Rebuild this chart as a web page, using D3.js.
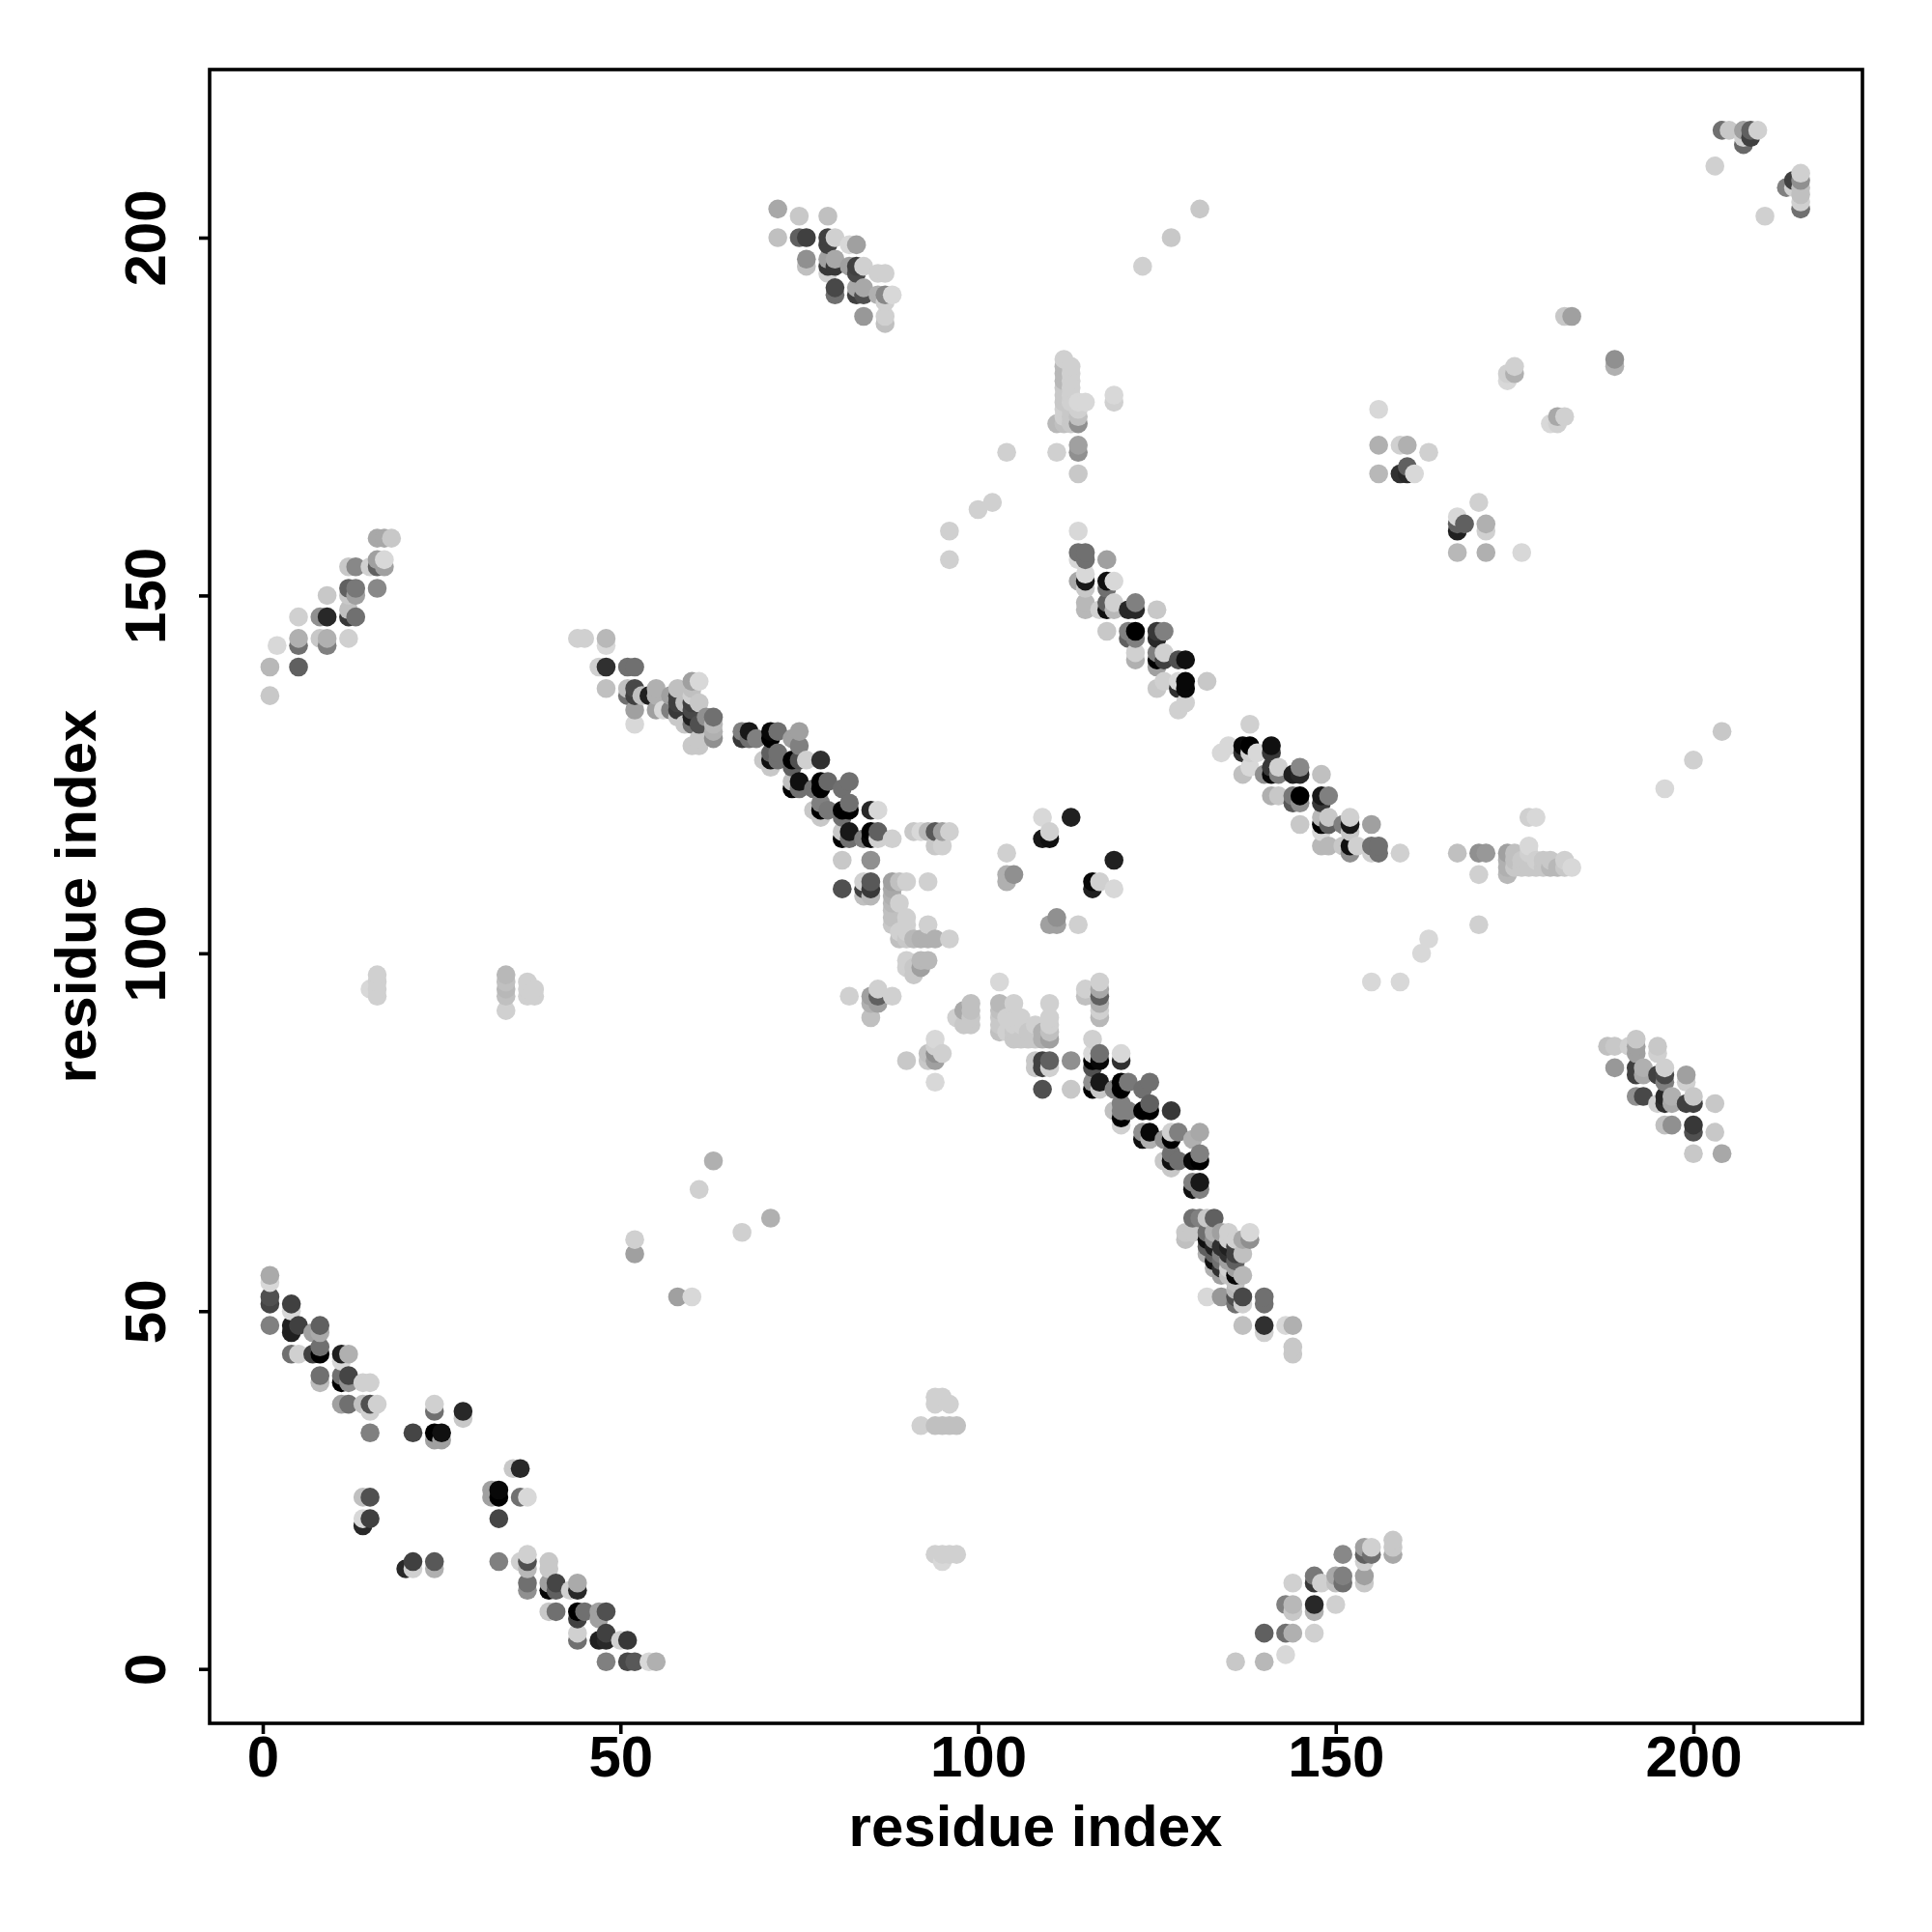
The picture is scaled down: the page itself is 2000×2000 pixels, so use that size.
<!DOCTYPE html>
<html>
<head>
<meta charset="utf-8">
<script src="https://cdn.jsdelivr.net/npm/d3@7/dist/d3.min.js"></script>
<style>html,body{margin:0;padding:0;background:#fff}svg{display:block}</style>
</head>
<body>
<script>
// each row: [residue x, residue y, grey level]
const lowerHelix = [
[1,55,0xaa],[1,54,0xd8],[1,52,0x50],[1,51,0x45],[1,48,0x80],
[4,51,0x40],[4,50,0xd8],[4,48,0x20],[4,47,0x20],[4,44,0x70],
[5,48,0x40],[5,44,0xd0],[7,47,0xa0],[7,44,0x40],
[8,48,0x60],[8,47,0xaa],[8,45,0x70],[8,44,0x00],[8,41,0x70],[8,40,0xbb],
[11,44,0x20],[11,43,0xd8],[11,41,0x70],[11,40,0x00],[11,37,0xa0],
[12,44,0xb0],[12,41,0x45],[12,40,0x90],[12,37,0x70],
[14,40,0xd0],[14,37,0xc0],[15,40,0xd0],[15,37,0x50],[15,36,0xd0],[15,33,0x80],[16,37,0xd0],
[21,33,0x45],[24,37,0xd0],[24,36,0x70],[24,33,0x00],[24,32,0xa0],[25,33,0x10],[25,32,0xa0],
[28,36,0x28],[28,35,0xc8],[35,28,0xc8],[36,28,0x28],
[32,25,0xa0],[32,24,0xa0],[33,25,0x08],[33,24,0x00],[33,21,0x45],
[36,24,0x70],[37,24,0xd8],[14,24,0xc0],[15,24,0x50],
[14,21,0xd8],[14,20,0x28],[15,21,0x40],
[20,14,0x28],[21,15,0x40],[21,14,0xd0],[24,15,0x58],[24,14,0xb0],[33,15,0x80]
];
const lowerStrand = [
[36,15,0xd0],[37,16,0xd0],[37,15,0x50],[37,14,0xb8],[37,12,0x70],[37,11,0x90],
[40,15,0xc8],[40,14,0xc8],[40,12,0xa0],[40,11,0x08],[40,8,0xc8],
[41,12,0x45],[41,11,0x60],[41,8,0x70],[43,11,0xd0],
[44,12,0xaa],[44,11,0x28],[44,8,0x00],[44,7,0x40],[44,5,0xd0],[44,4,0x70],
[45,8,0x70],[47,8,0xa0],[47,7,0xa0],[47,4,0x20],
[48,8,0x50],[48,5,0x40],[48,4,0x28],[48,1,0x80],
[50,4,0xd0],[51,4,0x38],[51,1,0x48],[52,1,0x58],[54,1,0xd8],[55,1,0xb0]
];
const centreDiagonalLower = [
[108,85,0xc8],[108,84,0xc8],[109,85,0x40],[109,84,0x40],[109,81,0x50],[110,85,0x60],[110,84,0xd0],
[113,85,0x90],[113,81,0xc8],[116,88,0xd0],[116,86,0xd8],[116,85,0x00],[116,84,0x50],[116,82,0x90],[116,81,0x00],
[117,86,0x70],[117,85,0x08],[117,82,0x18],[117,81,0xc8],
[120,86,0xd8],[120,85,0x30],[120,82,0x00],[120,81,0x00],[119,81,0x80],[121,82,0x78],
[123,81,0x70],[124,82,0x70],[119,78,0xc0],[120,79,0x80],[120,78,0x80],[120,77,0x00],[120,76,0xd0],[121,78,0x80],
[123,78,0x00],[124,79,0x60],[124,78,0x00],[123,75,0x90],[123,74,0x10],[124,75,0x08],[124,74,0xb0],
[127,78,0x38],[127,75,0xd0],[127,74,0x00],[126,74,0x90],[128,75,0x80],[130,74,0xb0],[131,75,0xa8],
[126,71,0xc8],[127,72,0x70],[127,71,0x10],[127,70,0xc8],[128,71,0x70],
[130,71,0x08],[130,68,0x80],[130,67,0x10],[131,72,0x80],[131,71,0x00],[131,68,0x18],[131,67,0x80]
];
const centreClusterLower = [
[130,63,0x70],[131,63,0x80],[132,63,0xc8],[133,63,0x60],[129,61,0xc8],[129,60,0xc0],[130,61,0xc8],
[132,61,0x70],[132,60,0x10],[132,59,0x60],[132,58,0xb0],
[133,61,0xb0],[133,60,0x90],[133,59,0x20],[133,58,0x60],[133,57,0x10],[133,56,0xb0],
[134,61,0xa0],[134,59,0x30],[134,58,0x80],[134,57,0x70],[134,56,0x30],[134,55,0xa0],
[135,61,0xd0],[135,60,0xd0],[135,59,0x20],[135,58,0x30],[135,57,0xa0],[135,56,0xd0],[135,55,0xc0],
[136,60,0xd0],[136,59,0x40],[136,58,0x40],[136,57,0x60],[136,56,0xa0],[136,55,0x08],[136,54,0xc0],[136,53,0xb8],[136,52,0x50],[136,51,0x70],
[137,60,0xa8],[137,58,0xc0],[137,55,0xb8],[137,52,0x48],[137,51,0xd0],[137,48,0xc0],
[138,61,0xd8],[138,60,0x90],[134,52,0x98],[132,52,0xd8],
[140,52,0x70],[140,51,0x70],[140,48,0x30],[140,47,0xd0],
[143,48,0xd8],[144,48,0xb0],[144,45,0xc8],[144,44,0xc8]
];
const upperStrand = [
[44,144,0xd0],[45,144,0xd0],[48,144,0xb8],[48,143,0xd8],[47,140,0xd0],[48,140,0x30],[51,140,0x70],[52,140,0x70],
[48,137,0xc0],[51,137,0xc0],[52,137,0x48],[51,136,0x70],[52,136,0x40],[53,136,0xc0],[52,134,0xa0],[52,132,0xd8],
[55,137,0xb0],[55,136,0xb0],[54,136,0x20],[55,134,0xa0],[56,134,0xd8],
[57,136,0xa0],[58,137,0xc0],[58,136,0x40],[58,135,0x40],[58,134,0x38],[58,133,0xc8],[57,134,0x80],
[59,135,0xc0],[59,132,0xc8],[60,138,0xa0],[60,137,0xc0],[60,136,0xd0],[60,135,0x40],[60,134,0x48],[60,133,0x20],[60,132,0x70],[60,129,0xc8],
[61,138,0xd8],[61,135,0xc8],[61,132,0x50],[61,130,0xc8],[61,129,0xc8],
[62,133,0x90],[63,133,0x70],[63,132,0xb8],[63,131,0xb0],[63,130,0x90]
];
const upperDiagonal = [
[67,131,0x80],[67,130,0x38],[68,131,0x18],[68,130,0x70],[69,130,0x80],
[71,131,0x08],[71,130,0x00],[72,131,0x70],[75,131,0xa0],[74,130,0xa0],
[71,128,0x60],[71,127,0x10],[70,127,0xc8],[72,128,0x70],[72,127,0x70],[71,126,0xc8],
[75,129,0x80],[74,127,0x00],[75,127,0x50],[76,127,0xd0],[78,127,0x30],[74,126,0x60],
[75,124,0x10],[74,124,0xc0],[74,123,0x00],[75,123,0x70],[77,123,0x70],[78,124,0x00],[78,123,0x00],[79,124,0x68],
[81,123,0x70],[82,124,0x70],[77,120,0xc8],[78,121,0x80],[78,120,0x00],[78,119,0xc8],[79,120,0x78],
[81,120,0x00],[82,120,0x00],[82,121,0x70],[81,119,0x70],[85,120,0x28],[86,120,0xd8],
[81,117,0xc8],[81,116,0x00],[82,117,0x18],[82,116,0x70],[84,116,0x80],[85,117,0x00],[85,116,0x08],[86,117,0x60],[86,116,0xd0],[88,116,0xd0],
[81,113,0xc8],[85,113,0x90],[81,109,0x50],[84,110,0xd0],[84,109,0x40],[84,108,0xc0],[85,110,0x58],[85,109,0x38],[85,108,0xb8]
];
const centreLightCluster = [
[91,117,0xc8],[92,117,0xd8],[93,117,0xb8],[94,117,0x58],[95,117,0xa0],[96,117,0xd0],[94,115,0xc8],[95,115,0xd0],
[88,110,0xa0],[88,109,0xa8],[88,108,0xb0],[88,107,0xb8],[88,106,0xc0],[88,105,0xc0],[88,104,0xc8],
[89,110,0xc0],[90,110,0xd0],[93,110,0xd0],[89,107,0xd0],[90,105,0xd0],[90,104,0xd0],[93,104,0xd0],
[89,103,0xd0],[89,102,0xc0],[90,103,0xd0],[90,102,0xc8],[91,102,0xb8],[92,102,0xb0],[93,102,0xb0],[94,102,0xb0],[96,102,0xd0],
[90,99,0xd0],[92,99,0xb8],[93,99,0xb8],[90,98,0xd0],[91,98,0xc8],[92,98,0xa0],[91,97,0xc8],
[82,94,0xd0],[86,95,0xd0],[88,94,0xd0],[85,94,0xa0],[86,94,0x60],[86,93,0xa0],[85,93,0xb0],[85,91,0xc0],
[90,85,0xc8],[93,85,0xc8],[94,88,0xd8],[94,86,0x90],[93,86,0xc0],[94,85,0xa0],[95,86,0xd0],[94,87,0xd0],[94,82,0xd8],
[99,93,0xc0],[98,92,0xa8],[97,91,0xd0],[99,92,0xc0],[99,91,0xc8],[98,90,0xc8],[99,90,0xc8],
[103,96,0xd8],[103,93,0xb8],[103,92,0xc0],[103,91,0xc8],[103,90,0xc8],[103,89,0xc0],[105,93,0xd0],[110,93,0xd0],
[104,91,0xd0],[104,89,0xd0],[105,91,0xd0],[105,90,0xd0],[105,89,0xc8],[105,88,0xc8],[106,91,0xd0],[106,90,0xd0],[106,88,0xc8],
[107,89,0xc8],[107,88,0xc8],[108,90,0xd0],[108,88,0xc8],[109,89,0xb0],[109,88,0xb0],[110,91,0xd0],[110,90,0xd0],[110,89,0xc0],[110,88,0xa0]
];
const centreIsolated = [
[109,119,0xd8],[113,119,0x20],[110,117,0xd0],[109,116,0x18],[110,116,0x10],[119,113,0x20],
[116,110,0x08],[117,110,0xd0],[116,109,0x20],[119,109,0xd8],
[104,114,0xd0],[104,111,0xb0],[104,110,0xb0],[105,111,0x90],[111,105,0x90],[110,104,0xa0],[111,104,0xa0],[114,104,0xd0],
[115,95,0xd0],[115,94,0xc0],[117,96,0xd0],[117,95,0xa8],[117,94,0x60],[117,93,0xb0],[117,92,0xd0],[117,91,0xb8]
];
const upperColumn = [
[112,183,0xd0],[112,182,0xb8],[112,181,0xb8],[112,180,0xb8],[112,179,0xc8],[112,178,0xc8],[112,177,0xc8],[112,176,0xd0],[112,175,0xd0],[112,174,0xc0],
[113,182,0xd0],[113,181,0xd0],[113,180,0xd0],[113,179,0xd0],[113,178,0xd0],[113,177,0xd0],[113,176,0xc8],[113,175,0xc8],[113,174,0xc8],
[111,174,0xb8],[114,174,0x90],[114,175,0xc0],[114,176,0xd0],[115,177,0xd8],[114,177,0xd8],
[111,170,0xd0],[114,171,0xa0],[114,170,0x90],[114,167,0xc8],[119,178,0xd8],[119,177,0xd0]
];
const upperBand = [
[114,159,0xd8],[114,156,0x70],[115,156,0x70],[115,155,0x70],[114,155,0xd8],[118,155,0xa0],
[114,152,0xa8],[115,153,0xd8],[115,152,0x18],[115,151,0xc8],[115,149,0xb8],[115,148,0xb8],[117,148,0xd0],
[118,152,0x10],[119,152,0xd8],[118,151,0x70],[118,149,0x60],[118,148,0x10],[119,149,0xd0],[119,148,0xb8],
[121,148,0x28],[122,149,0x80],[122,148,0x28],[125,148,0xc8],[118,145,0xc8],[121,145,0x80],[121,144,0x60],
[122,145,0x00],[122,144,0x80],[125,145,0x38],[125,144,0x28],[126,145,0x80],
[122,142,0xd0],[122,141,0xb0],[125,142,0x80],[125,141,0x00],[125,140,0xa0],[126,142,0xd0],[126,141,0x40],
[128,141,0x50],[129,141,0x10],[126,138,0xd0],[125,137,0xc8],[128,137,0x30],[128,138,0xd8],[129,138,0x08],[129,137,0x08],[132,138,0xc8],
[129,135,0xd0],[128,134,0xd0]
];
const rightBand = [
[138,132,0xd0],[134,128,0xd8],[135,129,0xd8],[137,129,0x08],[137,128,0x30],[138,129,0x00],[138,128,0xd0],[139,128,0xd8],
[141,129,0x10],[141,128,0x38],[137,125,0xc0],[138,126,0xd8],[140,125,0x90],[141,126,0x38],[141,125,0x08],[142,126,0xd0],[142,125,0x80],
[144,125,0x20],[145,126,0x88],[145,125,0x28],[148,125,0xc0],[141,122,0xb0],[142,122,0xc8],[144,122,0x78],[144,121,0x58],[145,122,0x00],[145,121,0x90],
[148,122,0x18],[148,121,0x38],[149,122,0x80],[145,118,0xc8],[148,119,0xb8],[148,118,0x00],[149,119,0xc8],[149,118,0x60],[148,117,0xd8],
[151,118,0x80],[152,119,0xd0],[152,118,0x18],[152,117,0xc8],[155,118,0xa0],[148,115,0xb8],[149,115,0xb8],[151,115,0xc8],[152,115,0x10],[152,114,0x90],[153,115,0xd0],
[155,114,0xd0],[155,115,0x70],[156,115,0x70],[156,114,0x70],[159,114,0xd0]
];
const rightLightRow = [
[167,114,0xc0],[170,114,0x90],[171,114,0x98],[170,111,0xd0],[174,114,0xa0],[174,113,0xb0],[174,112,0xb0],[174,111,0xb8],
[175,114,0xc0],[175,113,0xc0],[175,112,0xc8],[177,115,0xd8],[177,114,0xd0],[176,113,0xc8],[176,112,0xc8],[177,119,0xd0],[178,119,0xd8],
[178,113,0xd0],[177,112,0xc8],[178,112,0xc8],[179,113,0xc8],[179,112,0xc8],[180,113,0xc8],[180,112,0xb8],[181,112,0xb8],[182,113,0xd0],[182,112,0xc8],[183,112,0xd8]
];
const topStrand = [
[72,204,0xa8],[72,200,0xc0],[75,203,0xc8],[79,203,0xc0],[75,200,0x60],[76,200,0x40],[79,200,0x40],[79,199,0x40],[80,200,0xd0],[82,199,0xd8],[83,199,0xa0],
[76,197,0x90],[76,196,0xc0],[79,197,0xa0],[79,196,0x38],[79,195,0xd0],[80,197,0xa8],[80,196,0x38],[82,196,0xa0],[83,196,0x40],[83,195,0x48],[84,196,0xd0],
[80,193,0x48],[80,192,0x70],[83,193,0xa8],[83,192,0x40],[84,193,0xa8],[84,192,0x50],[86,195,0xd0],[87,195,0xd0],[86,192,0xb0],[87,192,0x88],[88,192,0xd8],[87,191,0xd0],
[84,189,0x98],[87,189,0xd0],[87,188,0xc0]
];
const rightStrand = [
[188,87,0xc0],[189,87,0xc8],[191,87,0xd0],[192,88,0xc8],[192,87,0xa0],[192,86,0xa0],[189,84,0x98],[192,84,0x40],[192,83,0x40],[193,84,0xb0],[193,83,0xa8],
[195,87,0xc8],[195,86,0xd0],[195,83,0x40],[196,84,0xd0],[196,83,0x48],[196,82,0x80],[199,83,0xa0],[199,82,0xd0],
[192,80,0x90],[193,80,0x48],[195,79,0xd0],[196,80,0x28],[196,79,0x30],[197,80,0xb0],[197,79,0xa8],[199,79,0x40],[200,80,0xc8],[200,79,0x40],[203,79,0xc8],
[196,76,0xc0],[197,76,0x90],[200,76,0x38],[200,75,0x50],[203,75,0xc8],[200,72,0xc8],[204,72,0xa8]
];
const bottomStrand = [
[136,1,0xc8],[140,1,0xb8],[143,2,0xd8],[140,5,0x60],[143,5,0x70],[144,5,0xb0],[147,5,0xd0],[143,9,0x80],[144,9,0xb8],[144,8,0xc8],[147,9,0x28],[147,8,0xb0],[150,9,0xd0],
[144,12,0xd0],[147,13,0x78],[147,12,0x38],[148,12,0xd0],[150,13,0xa8],[150,12,0xc0],[151,13,0x80],[151,12,0x70],[151,16,0x88],
[154,13,0xa0],[154,12,0xc8],[154,15,0xd0],[154,17,0xa0],[154,16,0x60],[155,17,0xd0],[155,16,0x70],[158,18,0xc8],[158,17,0xc8],[158,16,0xa8]
];
const leftStrand = [
[1,136,0xc8],[1,140,0xb8],[2,143,0xd8],[5,140,0x60],[5,143,0x70],[5,144,0xb0],[5,147,0xd0],[8,144,0xc8],[8,147,0x90],[9,147,0x28],[9,150,0xc8],[9,144,0xb0],[9,143,0x80],[12,144,0xd0],
[12,147,0x38],[13,147,0x70],[12,148,0xc0],[12,150,0xc8],[13,151,0x78],[12,151,0x60],[13,150,0xa0],[12,154,0xc8],[13,154,0x88],
[16,151,0x88],[16,154,0x60],[15,154,0xd0],[17,154,0xa0],[17,155,0xd8],[16,155,0xa0],[16,158,0xa8],[17,158,0xa8],[18,158,0xc8]
];
const sparseColumns = [
[16,97,0xd0],[16,96,0xd0],[16,95,0xd0],[16,94,0xd0],[15,95,0xd8],[34,97,0xb8],[34,96,0xc0],[34,95,0xb8],[34,94,0xc0],[34,92,0xd0],
[37,96,0xd0],[37,95,0xd0],[37,94,0xd0],[38,95,0xd0],[38,94,0xd0],
[63,71,0xb0],[61,67,0xd0],[67,61,0xd0],[71,63,0xb0],[52,60,0xd0],[52,58,0xa0],[58,52,0xa0],[60,52,0xd8],
[92,34,0xd0],[94,34,0xc0],[95,34,0xc0],[96,34,0xc0],[97,34,0xc0],[94,38,0xd0],[95,38,0xd0],[94,37,0xd0],[96,37,0xd0],
[94,16,0xd0],[95,16,0xd0],[95,15,0xd8],[96,16,0xd0],[97,16,0xd0]
];
const topRightGroups = [
[131,204,0xc8],[127,200,0xc8],[123,196,0xd0],
[204,215,0x70],[205,215,0xc8],[207,215,0xa0],[207,214,0xd0],[207,213,0x68],[208,215,0x60],[208,214,0x40],[209,215,0xd0],
[203,210,0xd0],[210,203,0xd0],[213,207,0x80],[214,208,0x40],[214,207,0xd0],[215,209,0xd0],[215,208,0x90],[215,207,0xc0],[215,206,0xc0],[215,205,0xd0],[215,204,0x70],
[183,189,0xa0],[182,189,0xc8],[189,183,0x90],[189,182,0xb0],[175,182,0xd0],[175,181,0xb0],[174,180,0xd8],[174,181,0xd0],
[181,175,0xa8],[182,175,0xd0],[180,174,0xd8],[181,174,0xd0],
[156,176,0xd8],[156,171,0xb0],[156,167,0xb8],[159,171,0xd0],[160,171,0xb0],[163,170,0xd0],[159,167,0x30],[160,168,0x60],[160,167,0x28],[161,167,0xd8],
[170,163,0xd0],[167,161,0xd8],[167,160,0x60],[167,159,0x20],[168,160,0x60],[171,160,0xb0],[171,159,0xd0],[167,156,0xb8],[171,156,0xb0],[176,156,0xd8]
];
const sparseDiagonals = [
[104,170,0xd0],[102,163,0xd0],[100,162,0xd0],[96,159,0xd0],[96,155,0xd0],
[204,131,0xc8],[200,127,0xd0],[196,123,0xd8],[170,104,0xd0],[163,102,0xd8],[162,100,0xd8],[155,96,0xd8],[159,96,0xd8]
];
const xTickValues = [0,50,100,150,200];
const yTickValues = [0,50,100,150,200];
const xTitle = "residue index";
const yTitle = "residue index";

const contacts = [].concat(lowerHelix, lowerStrand, centreDiagonalLower, centreClusterLower, upperStrand,
  upperDiagonal, centreLightCluster, centreIsolated, upperColumn, upperBand, rightBand, rightLightRow,
  topStrand, rightStrand, bottomStrand, leftStrand, sparseColumns, topRightGroups, sparseDiagonals)
  .sort((a, b) => d3.ascending(a[0], b[0]) || d3.ascending(a[1], b[1]));

const font = "'Liberation Sans', Arial, sans-serif";
const frame = {left: 217, right: 1928, top: 72, bottom: 1784};
const svg = d3.select("body").append("svg").attr("width", 2000).attr("height", 2000);

const x = d3.scaleLinear().domain([0, 200]).range([272, 1753]);
const y = d3.scaleLinear().domain([0, 200]).range([1727.7, 246]);

svg.append("g").selectAll("circle").data(contacts).join("circle")
  .attr("cx", d => x(d[0]))
  .attr("cy", d => y(d[1]))
  .attr("r", 9.8)
  .attr("fill", d => d3.rgb(d[2], d[2], d[2]).formatHex());

svg.append("rect")
  .attr("x", frame.left).attr("y", frame.top)
  .attr("width", frame.right - frame.left).attr("height", frame.bottom - frame.top)
  .attr("fill", "none").attr("stroke", "#000").attr("stroke-width", 3.6);

const gx = svg.append("g").attr("transform", `translate(0,${frame.bottom})`)
  .call(d3.axisBottom(x).tickValues(xTickValues).tickSize(11).tickPadding(0).tickFormat(d3.format("d")));
const gy = svg.append("g").attr("transform", `translate(${frame.left},0)`)
  .call(d3.axisLeft(y).tickValues(yTickValues).tickSize(11).tickPadding(0).tickFormat(d3.format("d")));
[gx, gy].forEach(g => {
  g.select(".domain").remove();
  g.selectAll(".tick line").attr("stroke", "#000").attr("stroke-width", 3.6);
  g.selectAll("text").attr("font-family", font).attr("font-weight", "bold")
    .attr("font-size", 60).attr("fill", "#000");
});
gx.selectAll("text").attr("y", 55).attr("dy", null).attr("text-anchor", "middle");
gy.selectAll("text").attr("x", null).attr("dy", null).attr("text-anchor", "middle")
  .attr("transform", "translate(-46,0) rotate(-90)").attr("y", 0);

svg.append("text").attr("x", 1072).attr("y", 1911).attr("text-anchor", "middle")
  .attr("font-family", font).attr("font-weight", "bold").attr("font-size", 60).text(xTitle);
svg.append("text").attr("transform", "translate(99,928) rotate(-90)").attr("text-anchor", "middle")
  .attr("font-family", font).attr("font-weight", "bold").attr("font-size", 60).text(yTitle);
</script>
</body>
</html>
